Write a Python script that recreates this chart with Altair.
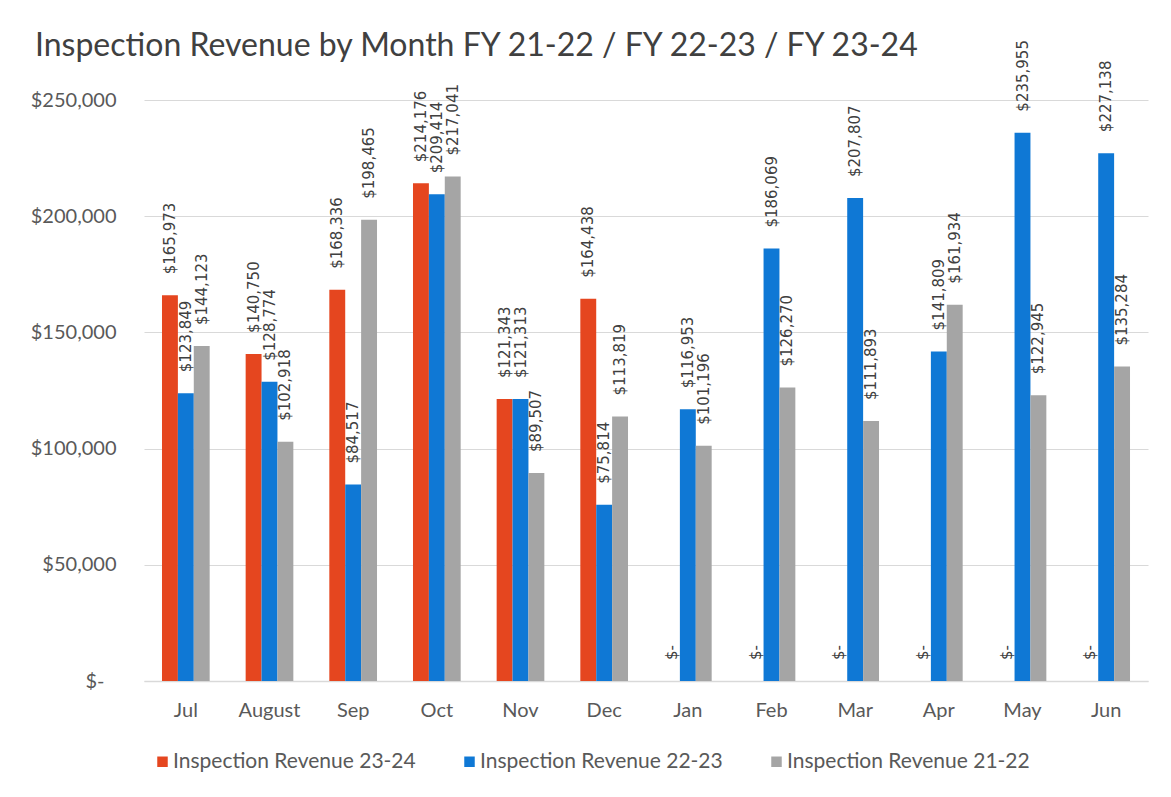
import altair as alt
import pandas as pd

months = ["Jul", "August", "Sep", "Oct", "Nov", "Dec", "Jan", "Feb", "Mar", "Apr", "May", "Jun"]
series = ["Inspection Revenue 23-24", "Inspection Revenue 22-23", "Inspection Revenue 21-22"]
rev_23_24 = [165973, 140750, 168336, 214176, 121343, 164438, 0, 0, 0, 0, 0, 0]
rev_22_23 = [123849, 128774, 84517, 209414, 121313, 75814, 116953, 186069, 207807, 141809, 235955, 227138]
rev_21_22 = [144123, 102918, 198465, 217041, 89507, 113819, 101196, 126270, 111893, 161934, 122945, 135284]
colors = ["#E5461F", "#0F78D5", "#A5A5A5"]

rows = []
for s, vals in zip(series, [rev_23_24, rev_22_23, rev_21_22]):
    for m, v in zip(months, vals):
        rows.append({"month": m, "series": s, "value": v})
df = pd.DataFrame(rows)

FONT = "Lato"
TXT = "#595959"

base = alt.Chart(df).transform_calculate(
    label="datum.value == 0 ? '$-' : '$' + format(datum.value, ',')"
)

x_enc = alt.X(
    "month:N",
    sort=months,
    title=None,
    scale=alt.Scale(paddingInner=0.43, paddingOuter=0.215),
    axis=alt.Axis(
        labelAngle=0, labelFont=FONT, labelFontSize=20, labelColor=TXT,
        labelPadding=19, ticks=False, domainColor="#D9D9D9", domainWidth=1.5,
    ),
)
xoff = alt.XOffset("series:N", sort=series, scale=alt.Scale(paddingInner=0, paddingOuter=0))

bars = base.mark_bar().encode(
    x=x_enc,
    xOffset=xoff,
    y=alt.Y(
        "value:Q",
        title=None,
        scale=alt.Scale(domain=[0, 250000], nice=False),
        axis=alt.Axis(
            values=[0, 50000, 100000, 150000, 200000, 250000],
            labelExpr="datum.value == 0 ? '$-' : '$' + format(datum.value, ',')",
            labelFont=FONT, labelFontSize=20, labelColor=TXT,
            labelPadding={"condition": {"test": "datum.value == 0", "value": 40}, "value": 28},
            ticks=False, domain=False, gridColor="#D9D9D9", gridWidth=1.2,
        ),
    ),
    color=alt.Color(
        "series:N",
        sort=series,
        scale=alt.Scale(domain=series, range=colors),
        legend=alt.Legend(
            title=None, orient="none", direction="horizontal",
            legendX=8, legendY=651,
            symbolType="square", symbolSize=110, symbolStrokeWidth=0,
            labelFont=FONT, labelFontSize=21, labelColor=TXT,
            columnPadding=43, labelOffset=0, labelLimit=400,
        ),
    ),
)

labels = base.mark_text(
    angle=270, align="left", baseline="middle", dx=21,
    font="DejaVu Sans", fontSize=15, color="#404040",
).encode(
    x=alt.X("month:N", sort=months),
    xOffset=xoff,
    y="value:Q",
    text="label:N",
)

chart = alt.layer(bars, labels).properties(
    width=1004,
    height=581,
    background="white",
    autosize=alt.AutoSizeParams(type="none"),
    padding={"left": 144, "top": 100, "right": 23, "bottom": 116},
    title=alt.TitleParams(
        "Inspection Revenue by Month FY 21-22 / FY 22-23 / FY 23-24",
        anchor="start", frame="group", dx=-109, dy=27,
        font=FONT, fontSize=32, fontWeight="normal", color="#404040",
    ),
).configure_view(strokeWidth=0, stroke="transparent")

chart.save("out.html", embed_options={"renderer": "svg", "actions": False})
